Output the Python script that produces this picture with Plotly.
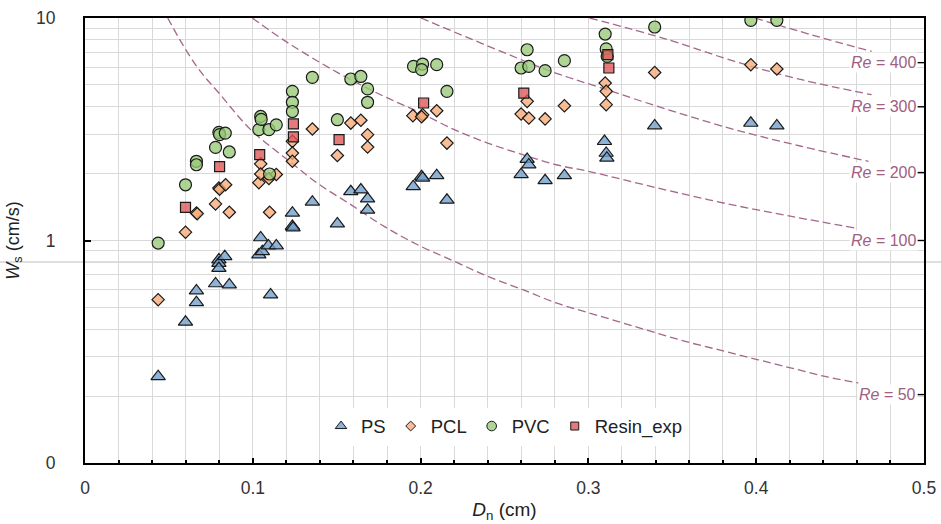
import math
import plotly.graph_objects as go

# ---------------- data ----------------
PS_D = [0.0436, 0.0599, 0.0664, 0.0664, 0.0778, 0.0798, 0.0798, 0.0798, 0.0833, 0.0860,
        0.1036, 0.1047, 0.1057, 0.1093, 0.1106, 0.1140, 0.1236, 0.1236, 0.1240, 0.1355,
        0.1504, 0.1584, 0.1644, 0.1684, 0.1684, 0.1956, 0.2006, 0.2012, 0.2096, 0.2157,
        0.2599, 0.2635, 0.2645, 0.2742, 0.2857, 0.3096, 0.3106, 0.3110, 0.3395, 0.3968, 0.4123]
PS_W = [0.245, 0.430, 0.595, 0.527, 0.640, 0.82, 0.79, 0.75, 0.848, 0.633,
        0.863, 1.03, 0.893, 0.948, 0.571, 0.948, 1.33, 1.16, 1.14, 1.49,
        1.19, 1.66, 1.69, 1.54, 1.37, 1.75, 1.94, 1.91, 1.96, 1.52,
        1.98, 2.32, 2.19, 1.86, 1.96, 2.79, 2.47, 2.35, 3.28, 3.37, 3.28]

PCL_D = [0.0436, 0.0599, 0.0664, 0.0669, 0.0778, 0.0798, 0.0802, 0.0838, 0.0860, 0.1036,
         0.1047, 0.1047, 0.1100, 0.1096, 0.1140, 0.1236, 0.1236, 0.1236, 0.1355, 0.1504,
         0.1584, 0.1644, 0.1684, 0.1684, 0.1954, 0.2012, 0.2006, 0.2096, 0.2157, 0.2599,
         0.2635, 0.2645, 0.2742, 0.2857, 0.3100, 0.3106, 0.3106, 0.3395, 0.3968, 0.4123]
PCL_W = [0.542, 1.09, 1.33, 1.32, 1.46, 1.72, 1.70, 1.78, 1.34, 1.82,
         2.21, 1.99, 1.34, 1.90, 1.98, 2.79, 2.47, 2.27, 3.17, 2.41,
         3.37, 3.47, 2.99, 2.63, 3.64, 3.67, 3.60, 3.83, 2.74, 3.70,
         4.22, 3.55, 3.52, 4.03, 5.10, 4.68, 4.08, 5.69, 6.17, 5.90]

PVC_D = [0.0436, 0.0599, 0.0664, 0.0664, 0.0778, 0.0798, 0.0802, 0.0836, 0.0860, 0.1036,
         0.1047, 0.1050, 0.1096, 0.1100, 0.1140, 0.1236, 0.1236, 0.1236, 0.1355, 0.1504,
         0.1584, 0.1644, 0.1684, 0.1684, 0.1958, 0.2012, 0.2006, 0.2096, 0.2157, 0.2599,
         0.2635, 0.2645, 0.2742, 0.2857, 0.3100, 0.3106, 0.3112, 0.3395, 0.3968, 0.4123]
PVC_W = [0.974, 1.78, 2.27, 2.19, 2.62, 3.06, 2.99, 3.04, 2.50, 3.15,
         3.61, 3.50, 3.15, 1.99, 3.31, 4.68, 4.18, 3.80, 5.41, 3.49,
         5.32, 5.46, 4.80, 4.18, 6.06, 6.21, 5.86, 6.17, 4.68, 5.96,
         7.20, 6.06, 5.80, 6.43, 8.47, 7.26, 6.72, 9.11, 9.76, 9.76]

RESIN_D = [0.0599, 0.0802, 0.1041, 0.1242, 0.1242, 0.1514, 0.2018, 0.2615, 0.3116, 0.3122]
RESIN_W = [1.41, 2.15, 2.43, 3.34, 2.92, 2.84, 4.15, 4.60, 6.84, 5.96]

# iso-Reynolds guide curves
RE50_D = [0.0493, 0.0589, 0.0688, 0.0798, 0.0987, 0.1206, 0.1385, 0.1584, 0.1783, 0.1982,
          0.2201, 0.2400, 0.2609, 0.2808, 0.3007, 0.3206, 0.3405, 0.3614, 0.3813, 0.4012,
          0.4211, 0.4410, 0.4609]
RE50_W = [10.0, 7.45, 5.75, 4.60, 3.15, 2.31, 1.81, 1.45, 1.157, 0.957,
          0.806, 0.690, 0.601, 0.524, 0.472, 0.426, 0.384, 0.346, 0.318, 0.291,
          0.267, 0.245, 0.229]
RE100_D = [0.0997, 0.1196, 0.1405, 0.1584, 0.1783, 0.1982, 0.2201, 0.2400, 0.2609, 0.2808,
           0.3007, 0.3415, 0.3813, 0.4211, 0.4609]
RE100_W = [10.0, 7.85, 6.28, 5.28, 4.44, 3.80, 3.15, 2.74, 2.43, 2.19,
           2.04, 1.72, 1.47, 1.283, 1.132]
RE200_D = [0.2002, 0.2479, 0.2778, 0.3076, 0.3475, 0.3872, 0.4270, 0.4669]
RE200_W = [10.0, 7.08, 5.75, 4.85, 3.87, 3.15, 2.65, 2.27]
RE300_D = [0.3007, 0.3475, 0.3872, 0.4270, 0.4688]
RE300_W = [10.0, 7.99, 6.38, 5.28, 4.52]
RE400_D = [0.3992, 0.4330, 0.4688]
RE400_W = [10.0, 8.40, 7.08]

RE_NAMES = ["50", "100", "200", "300", "400"]
RE_LABEL_W = [0.203, 1.0, 2.02, 3.99, 6.30]   # where each label sits on the Ws axis

X_TICKS = [0, 0.1, 0.2, 0.3, 0.4, 0.5]
Y_TICKS = [0.1, 1, 10]
Y_TICKTEXT = ["0", "1", "10"]
GRID_RULE_W = 0.8   # the gray rule that runs across the whole picture

# ---------------- styling ----------------
FONT = "Liberation Sans, Arial, sans-serif"
RE_COLOR = "#A5678A"
RE_TEXT = "#A0607F"
GRID = "#D9D9D9"

fig = go.Figure()

curves = [(RE50_D, RE50_W), (RE100_D, RE100_W), (RE200_D, RE200_W),
          (RE300_D, RE300_W), (RE400_D, RE400_W)]
for (d, w) in curves:
    fig.add_trace(go.Scatter(x=d, y=w, mode="lines",
                             line=dict(color=RE_COLOR, width=1.3, dash="8px,4px", shape="spline"),
                             showlegend=False, hoverinfo="skip"))

series = [
    ("PS", PS_D, PS_W, "triangle-up", "rgba(112,158,204,0.78)", 12.5),
    ("PCL", PCL_D, PCL_W, "diamond", "rgba(246,170,118,0.78)", 9.5),
    ("PVC", PVC_D, PVC_W, "circle", "rgba(152,201,120,0.78)", 12),
    ("Resin_exp", RESIN_D, RESIN_W, "square", "rgba(222,84,84,0.78)", 10),
]
for name, d, w, sym, col, sz in series:
    fig.add_trace(go.Scatter(x=d, y=w, mode="markers", name=name, showlegend=False,
                             marker=dict(symbol=sym, size=sz, color=col,
                                         line=dict(color="#1a1a1a", width=1.2))))
# legend entries (smaller symbols, as in the reference legend)
for name, d, w, sym, col, sz in series:
    fig.add_trace(go.Scatter(x=[None], y=[None], mode="markers", name=name,
                             marker=dict(symbol=sym, size=sz * 0.8, color=col,
                                         line=dict(color="#1a1a1a", width=1))))

# minor grid positions for the log axis 0.1 .. 10
y_minor = [m * 10.0 ** e for e in (-1, 0) for m in range(2, 10)]

fig.update_layout(
    width=941, height=524,
    margin=dict(l=85, r=17, t=18, b=61),
    plot_bgcolor="white", paper_bgcolor="white",
    font=dict(family=FONT, size=17, color="#333333"),
    xaxis=dict(range=[0, 0.5], tickvals=X_TICKS, ticktext=[f"{v:g}" for v in X_TICKS],
               tickfont=dict(size=17.5), automargin=False,
               showline=True, linecolor="black", linewidth=2, mirror=True,
               ticks="inside", ticklen=5, tickwidth=1.5, tickcolor="black",
               showgrid=True, gridcolor=GRID, gridwidth=1, zeroline=False,
               minor=dict(dtick=0.02, tick0=0, ticks="inside", ticklen=3, tickcolor="black",
                          showgrid=True, gridcolor=GRID, gridwidth=1),
               ticklabelstandoff=8,
               title=dict(text="<i>D</i><sub>n</sub> (cm)", font=dict(size=19, color="#222"),
                          standoff=6)),
    yaxis=dict(type="log", range=[-1, 1], tickvals=Y_TICKS, ticktext=Y_TICKTEXT,
               tickfont=dict(size=17.5), automargin=False,
               showline=True, linecolor="black", linewidth=2, mirror=True,
               ticks="inside", ticklen=6, tickwidth=1.5, tickcolor="black",
               showgrid=True, gridcolor=GRID, gridwidth=1, zeroline=False,
               minor=dict(tickmode="array", tickvals=y_minor, ticks="",
                          showgrid=True, gridcolor=GRID, gridwidth=1),
               ticklabelstandoff=24,
               title=dict(text="<i>W</i><sub>s</sub> (cm/s)", font=dict(size=18, color="#222"),
                          standoff=12)),
    legend=dict(orientation="h", x=0.5, xanchor="center", y=0.082, yanchor="middle",
                bgcolor="white", font=dict(size=18.5, color="#222"), itemwidth=30,
                traceorder="normal"),
    showlegend=True,
)

# Re labels with white boxes, and the small marks on the right axis
for name, wv in zip(RE_NAMES, RE_LABEL_W):
    fig.add_annotation(x=0.4955, y=math.log10(wv), xref="x", yref="y", xshift=2,
                       text=f"<i>Re</i> = {name}", showarrow=False, xanchor="right",
                       yanchor="middle", bgcolor="white", borderpad=1,
                       font=dict(family=FONT, size=16, color=RE_TEXT))
    fig.add_shape(type="line", xref="paper", yref="y", x0=1, x1=0.992,
                  y0=wv, y1=wv, line=dict(color="black", width=1.4))

# faint gray rule at 0.8 that runs across the whole picture
fig.add_shape(type="line", xref="paper", yref="y", x0=-0.11, x1=1.03,
              y0=GRID_RULE_W, y1=GRID_RULE_W, line=dict(color="#D4D4D4", width=1.6),
              layer="below")

fig.write_html("out.html")
